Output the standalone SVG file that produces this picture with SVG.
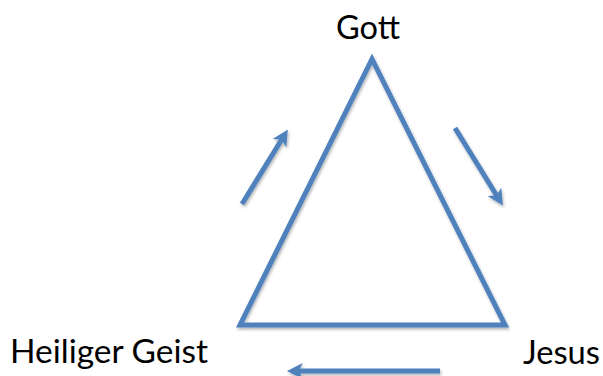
<svg xmlns="http://www.w3.org/2000/svg" width="603" height="376" viewBox="0 0 603 376">
  <style>
    .label { font-family: "Lato", "Open Sans", "Liberation Sans", sans-serif; font-size: 32px; fill: #000000; }
    .tri { fill: none; stroke: #4F81BD; stroke-width: 5; stroke-linejoin: miter; }
    .flow { fill: none; stroke: #4F81BD; stroke-width: 5; marker-end: url(#head); }
  </style>
  <defs>
    <filter id="shade" x="-10%" y="-10%" width="130%" height="130%">
      <feDropShadow dx="1" dy="2" stdDeviation="1.5" flood-color="#000000" flood-opacity="0.3"/>
    </filter>
    <marker id="head" viewBox="0 0 10 10" refX="3" refY="5" markerWidth="3.2" markerHeight="3.2" orient="auto" markerUnits="strokeWidth">
      <path d="M0,0 L10,5 L0,10 L2.5,5 Z" fill="#4F81BD"/>
    </marker>
  </defs>

  <!-- triangle -->
  <g id="triangle" filter="url(#shade)">
    <polygon class="tri" points="372,59 240,325 505,325"/>
  </g>

  <!-- vertex labels -->
  <g id="gott">
    <text class="label" x="336" y="39" textLength="64" lengthAdjust="spacingAndGlyphs">Gott</text>
  </g>
  <g id="heiliger-geist">
    <text class="label" x="10" y="363" textLength="198" lengthAdjust="spacingAndGlyphs">Heiliger Geist</text>
  </g>
  <g id="jesus">
    <text class="label" x="523" y="364" textLength="77" lengthAdjust="spacingAndGlyphs">Jesus</text>
  </g>

  <!-- circulating arrows -->
  <g id="connectors" filter="url(#shade)">
    <line class="flow" x1="242" y1="204" x2="282" y2="139"/>
    <line class="flow" x1="455" y1="128" x2="497" y2="196"/>
    <line class="flow" x1="440" y1="371" x2="298" y2="371"/>
  </g>
</svg>
